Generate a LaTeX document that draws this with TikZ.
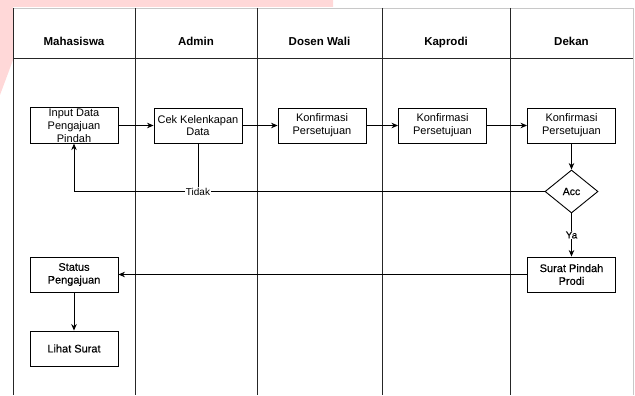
\documentclass[tikz,border=0pt]{standalone}
\usepackage{fontspec}
\setmainfont{Liberation Sans}
\newfontfamily\semibold{Liberation Sans}[FakeBold=0.4]
\usetikzlibrary{shapes.geometric,arrows.meta}
\definecolor{wmpink}{HTML}{FFD8D8}
\definecolor{framegray}{HTML}{C8C8C8}
\tikzset{
  lane/.style={draw=black!85, line width=0.8pt},
  frameline/.style={draw=framegray, line width=0.8pt},
  header/.style={anchor=base, font=\fontsize{11.5}{13}\selectfont\bfseries},
  proc/.style={draw, line width=0.9pt, rectangle, minimum width=88pt, minimum height=35pt,
               inner sep=1pt, align=center, font=\fontsize{11}{12.8}\selectfont},
  heavy/.style={font=\fontsize{11}{12.8}\selectfont\semibold},
  dec/.style={draw, line width=0.9pt, diamond, aspect=1.23, minimum width=53pt,
              minimum height=43pt, inner sep=0pt, font=\fontsize{10.5}{12}\selectfont\semibold},
  arr/.style={draw, line width=0.9pt, -{Stealth[length=6.5pt,width=5.5pt]}},
  plain/.style={draw, line width=0.9pt},
  lbl/.style={fill=white, inner sep=0.5pt, font=\fontsize{10}{11}\selectfont}
}
\begin{document}
\begin{tikzpicture}[x=1pt,y=-1pt]
\useasboundingbox (0,0) rectangle (635,396);
% pink corner band
\fill[wmpink] (0,0) -- (333,0) -- (333,7) -- (13,7) -- (13,60) -- (0,95) -- cycle;
% outer frame
\draw[frameline] (13,8) -- (633,8);
\draw[frameline] (633,8) -- (633,395);
% swimlane dividers and header line
\foreach \x in {13,135,257,382,510} \draw[lane] (\x,8) -- (\x,395);
\draw[lane] (13,58) -- (633,58);
% lane titles
\node[header] (h1) at (74,46) {Mahasiswa};
\node[header] (h2) at (196,46) {Admin};
\node[header] (h3) at (319.5,46) {Dosen Wali};
\node[header] (h4) at (446,46) {Kaprodi};
\node[header] (h5) at (571.5,46) {Dekan};
% process steps
\node[proc] (in) at (74,125.5) {Input Data\\Pengajuan\\Pindah};
\node[proc] (cek) at (198,125.5) {Cek Kelenkapan\\Data};
\node[proc] (k1) at (322,125.5) {Konfirmasi\\Persetujuan};
\node[proc] (k2) at (442.5,125.5) {Konfirmasi\\Persetujuan};
\node[proc] (k3) at (571.5,125.5) {Konfirmasi\\Persetujuan};
\node[dec] (acc) at (571.5,191.5) {Acc};
\node[proc, heavy] (surat) at (571.5,274.5) {Surat Pindah\\Prodi};
\node[proc, heavy] (status) at (74,274.5) {Status\\Pengajuan};
\node[proc, heavy] (lihat) at (74,348.5) {Lihat Surat};
% flow
\draw[arr] (in) -- (cek);
\draw[arr] (cek) -- (k1);
\draw[arr] (k1) -- (k2);
\draw[arr] (k2) -- (k3);
\draw[arr] (k3) -- (acc);
\coordinate (tj) at (cek.south |- acc.west);
\draw[arr] (acc.west) -| (in.south);
\draw[plain] (cek.south) -- (tj);
\node[lbl] (tidak) at (tj) {Tidak};
\draw[arr] (acc.south) -- node[lbl, font=\fontsize{10}{11}\selectfont\semibold] (ya) {Ya} (surat.north);
\draw[arr] (surat) -- (status);
\draw[arr] (status) -- (lihat);
\end{tikzpicture}
\end{document}
